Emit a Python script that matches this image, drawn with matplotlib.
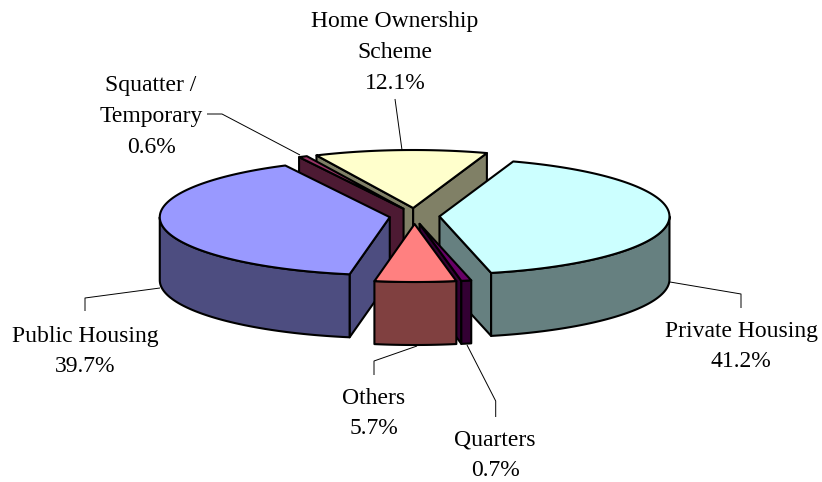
import numpy as np
import matplotlib
matplotlib.use("Agg")
import matplotlib.pyplot as plt
from matplotlib.patches import Polygon

# Data
labels = ["Private Housing", "Quarters", "Others", "Public Housing", "Squatter /\nTemporary", "Home Ownership\nScheme"]
values = [41.2, 0.7, 5.7, 39.7, 0.6, 12.1]
top_colors = ["#CCFFFF", "#660066", "#FF8080", "#9999FF", "#993366", "#FFFFCC"]
side_colors = ["#668080", "#330033", "#804040", "#4D4D80", "#4D1A33", "#808066"]
draw_order = [5, 4, 0, 3, 1, 2]
label_pos = [(741, 346.5), (495, 455.5), (374, 413.5), (85, 351.5), (151, 116.5), (395, 52.5)]
leaders = [
    [(670, 282), (741, 294), (741, 308)],
    [(467, 345), (495.7, 401), (495.7, 417)],
    [(417, 346), (374, 361), (374, 375)],
    [(160, 288), (85, 298), (85, 311)],
    [(300, 155), (222, 114), (207, 114)],
    [(402, 150), (395, 99)],
]

# Pie geometry, in pixels
cx, cy = 414.5, 216.0
rx, ry = 230.0, 58.0
depth = 63.0
explode_x, explode_y = 25.0, 8.0
start_angle = 71.3

plt.rcParams['font.family'] = ['Liberation Serif', 'DejaVu Serif']


def arc(ox, oy, a0, a1, dy=0.0):
    t = np.radians(np.linspace(a0, a1, max(int(abs(a1 - a0)) * 2, 2)))
    return np.column_stack([ox + rx * np.cos(t), oy - ry * np.sin(t) + dy])


def front_ranges(a0, a1):
    # parts of a0 -> a1 (a0 > a1, clockwise) on the lower half of the ellipse
    out = []
    for k in range(-2, 2):
        lo, hi = -180 + 360 * k, 360 * k
        s, e = min(a0, hi), max(a1, lo)
        if s > e:
            out.append((s, e))
    return out


def draw_slice(ax, a0, a1, top, side):
    mid = np.radians((a0 + a1) / 2)
    ox = cx + explode_x * np.cos(mid)
    oy = cy - explode_y * np.sin(mid)
    style = dict(edgecolor="black", linewidth=1.5, joinstyle="round")

    # cut faces, only those turned to the viewer
    for ang, normal in ((a0, a0 + 90), (a1, a1 - 90)):
        if np.sin(np.radians(normal)) < 0:
            end = arc(ox, oy, ang, ang)[0]
            pts = [(ox, oy), end, (end[0], end[1] + depth), (ox, oy + depth)]
            ax.add_patch(Polygon(pts, facecolor=side, **style))

    # outer wall
    for s, e in front_ranges(a0, a1):
        upper = arc(ox, oy, s, e)
        lower = arc(ox, oy, e, s, depth)
        ax.add_patch(Polygon(np.vstack([upper, lower]), facecolor=side, **style))

    # top
    pts = np.vstack([[(ox, oy)], arc(ox, oy, a0, a1)])
    ax.add_patch(Polygon(pts, facecolor=top, **style))


fig = plt.figure(figsize=(8.22, 4.82), dpi=100)
ax = fig.add_axes([0, 0, 1, 1])
ax.set_xlim(0, 822)
ax.set_ylim(482, 0)
ax.axis("off")

sweeps = np.array(values) / sum(values) * 360
starts = start_angle - np.concatenate([[0], np.cumsum(sweeps)[:-1]])
for i in draw_order:
    draw_slice(ax, starts[i], starts[i] - sweeps[i], top_colors[i], side_colors[i])

for line in leaders:
    xs, ys = zip(*line)
    ax.plot(xs, ys, color="black", linewidth=0.7, solid_capstyle="butt")

for name, val, (x, y) in zip(labels, values, label_pos):
    ax.text(x, y, f"{name}\n{val:.1f}%", ha="center", va="center", fontsize=17,
            linespacing=1.62, color="black")

fig.savefig("out.png", dpi=100)
